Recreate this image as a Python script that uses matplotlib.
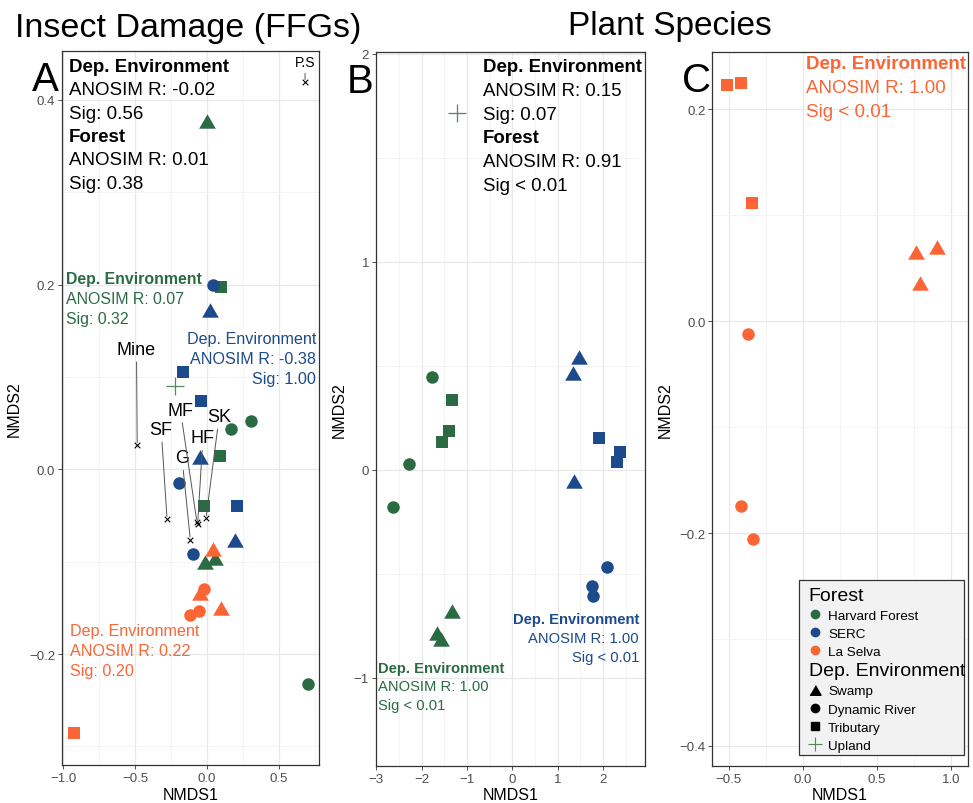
import numpy as np
import matplotlib.pyplot as plt
from matplotlib.lines import Line2D
from matplotlib.patches import Rectangle

plt.rcParams['font.family'] = ['Liberation Sans', 'DejaVu Sans']

forest_names = ['Harvard Forest', 'SERC', 'La Selva']
forest_codes = ['HF', 'SERC', 'LS']
env_names = ['Swamp', 'Dynamic River', 'Tributary', 'Upland']
env_codes = ['S', 'D', 'T', 'U']

#%% panel A - insect damage (FFGs)
a_x = [0.00, 0.10, -0.225, 0.31, 0.167, 0.092, -0.024, -0.017, 0.058, 0.706,
       0.04, 0.02, -0.17, -0.045, -0.047, -0.197, 0.208, 0.197, -0.097,
       0.04, -0.047, -0.024, 0.10, -0.058, -0.116, -0.926]
a_y = [0.377, 0.197, 0.090, 0.052, 0.044, 0.014, -0.040, -0.100, -0.096, -0.232,
       0.200, 0.173, 0.105, 0.074, 0.013, -0.015, -0.040, -0.076, -0.092,
       -0.086, -0.134, -0.130, -0.150, -0.153, -0.158, -0.285]
a_forest = ['HF'] * 10 + ['SERC'] * 9 + ['LS'] * 7
a_env = ['S', 'T', 'U', 'D', 'D', 'T', 'T', 'S', 'S', 'D',
         'D', 'S', 'T', 'T', 'S', 'D', 'T', 'S', 'D',
         'S', 'S', 'D', 'S', 'D', 'D', 'T']

# plant species scores in panel A
sp_names = ['P.S', 'Mine', 'SF', 'G', 'MF', 'HF', 'SK']
sp_x = [0.683, -0.486, -0.278, -0.116, -0.070, -0.065, -0.007]
sp_y = [0.419, 0.026, -0.054, -0.076, -0.057, -0.059, -0.053]

#%% panel B - plant species
b_x = [-1.214, -1.78, -1.325, -1.40, -1.56, -2.27, -2.63, -1.34, -1.655, -1.575,
       1.48, 1.35, 1.92, 2.38, 2.32, 1.36, 2.08, 1.77, 1.79]
b_y = [1.715, 0.444, 0.337, 0.1875, 0.132, 0.027, -0.181, -0.68, -0.785, -0.814,
       0.54, 0.465, 0.151, 0.087, 0.038, -0.053, -0.466, -0.56, -0.606]
b_forest = ['HF'] * 10 + ['SERC'] * 9
b_env = ['U', 'D', 'T', 'T', 'T', 'D', 'D', 'S', 'S', 'S',
         'S', 'S', 'T', 'T', 'T', 'S', 'D', 'D', 'D']

#%% panel C - plant species, La Selva
c_x = [-0.514, -0.417, -0.34, 0.763, 0.91, 0.79, -0.372, -0.419, -0.338]
c_y = [0.223, 0.225, 0.111, 0.065, 0.070, 0.036, -0.0125, -0.174, -0.205]
c_forest = ['LS'] * 9
c_env = ['T', 'T', 'T', 'S', 'S', 'S', 'D', 'D', 'D']

colors = {'HF': '#2b6b44', 'SERC': '#1c4a8a', 'LS': '#fb6536'}
plus_color = {'HF': '#4f8a60', 'SERC': '#4d6fa8', 'LS': '#fb8a66'}
tri = [(-1, -0.866), (1, -0.866), (0, 0.866)]
markers = {'S': tri, 'D': 'o', 'T': 's', 'U': '+'}
msize = {'S': 12, 'D': 9, 'T': 9, 'U': 13}


def points(ax, x, y, forest, env):
    for i in range(len(x)):
        e = env[i]
        if e == 'U':
            ax.scatter(x[i], y[i], marker='+', s=msize[e] ** 2, color=plus_color[forest[i]],
                       linewidths=0.9, zorder=3)
        else:
            ax.scatter(x[i], y[i], marker=markers[e], s=msize[e] ** 2, color=colors[forest[i]],
                       linewidths=0, zorder=3)


def style(ax, xmaj, xmin, ymaj, ymin, xfmt, yfmt, xlim, ylim):
    ax.set_xlim(*xlim); ax.set_ylim(*ylim)
    ax.set_xticks(xmaj)
    ax.set_xticklabels([(xfmt % v).replace('-', '\u2212') for v in xmaj])
    ax.set_yticks(ymaj)
    ax.set_yticklabels([(yfmt % v).replace('-', '\u2212') for v in ymaj])
    ax.set_xticks(xmin, minor=True); ax.set_yticks(ymin, minor=True)
    ax.grid(which='major', color='#e8e8e8', lw=0.9, zorder=0)
    ax.grid(which='minor', color='#f3f3f3', lw=0.6, zorder=0)
    ax.set_axisbelow(True)
    ax.tick_params(which='major', length=3, width=0.6, color='#333333',
                   labelsize=9.5, labelcolor='#4d4d4d', pad=2)
    ax.tick_params(which='minor', length=0)
    for s in ax.spines.values():
        s.set_color('#333333'); s.set_linewidth(0.9)
    ax.set_xlabel('NMDS1', fontsize=11.5, labelpad=2)
    ax.set_ylabel('NMDS2', fontsize=11.5, labelpad=5)


def block(ax, x, y, lines, color, size, step, bold=(), ha='left'):
    for i, t in enumerate(lines):
        ax.annotate(t, xy=(x, y), xytext=(0, -i * step), textcoords='offset points',
                    ha=ha, va='baseline', fontsize=size, color=color,
                    fontweight='bold' if i in bold else 'normal', zorder=6)


fig = plt.figure(figsize=(9.73, 8.04), dpi=100)
axA = fig.add_axes([0.0637, 0.0473, 0.2641, 0.888])
axB = fig.add_axes([0.3864, 0.0464, 0.2765, 0.888])
axC = fig.add_axes([0.7321, 0.0464, 0.2628, 0.888])

# A
style(axA, [-1.0, -0.5, 0.0, 0.5], [-0.75, -0.25, 0.25, 0.75],
      [-0.2, 0.0, 0.2, 0.4], [-0.3, -0.1, 0.1, 0.3], '%.1f', '%.1f',
      (-1.01, 0.78), (-0.32, 0.453))
points(axA, a_x, a_y, a_forest, a_env)
axA.scatter(sp_x, sp_y, marker='x', s=16, color='black', linewidths=0.8, zorder=4)
sp_label_pos = [(0.683, 0.441), (-0.491, 0.130), (-0.319, 0.0433), (-0.174, 0.0127),
                (-0.185, 0.0643), (-0.028, 0.0343), (0.085, 0.0571)]
for name, px, py, (lx, ly) in zip(sp_names, sp_x, sp_y, sp_label_pos):
    axA.annotate(name, xy=(px, py), xytext=(lx, ly), ha='center', va='center',
                 fontsize=10 if name == 'P.S' else 13, zorder=5,
                 arrowprops=dict(arrowstyle='-', color='#555555', lw=0.7,
                                 shrinkA=1, shrinkB=2))

block(axA, -0.963, 0.4315, ['Dep. Environment', 'ANOSIM R: -0.02', 'Sig: 0.56',
                            'Forest', 'ANOSIM R: 0.01', 'Sig: 0.38'],
      'black', 13.5, 16.8, bold=(0, 3))
block(axA, -0.984, 0.2023, ['Dep. Environment', 'ANOSIM R: 0.07', 'Sig: 0.32'],
      colors['HF'], 11.4, 14.4, bold=(0,))
block(axA, 0.759, 0.1373, ['Dep. Environment', 'ANOSIM R: -0.38', 'Sig: 1.00'],
      colors['SERC'], 11.6, 14.4, ha='right')
block(axA, -0.954, -0.1788, ['Dep. Environment', 'ANOSIM R: 0.22', 'Sig: 0.20'],
      colors['LS'], 11.6, 14.4)

# B
style(axB, [-3, -2, -1, 0, 1, 2], [-2.5, -1.5, -0.5, 0.5, 1.5, 2.5],
      [-1, 0, 1, 2], [-0.5, 0.5, 1.5], '%d', '%d',
      (-3.01, 2.93), (-1.423, 2.01))
points(axB, b_x, b_y, b_forest, b_env)
block(axB, -0.653, 1.915, ['Dep. Environment', 'ANOSIM R: 0.15', 'Sig: 0.07',
                           'Forest', 'ANOSIM R: 0.91', 'Sig < 0.01'],
      'black', 13.4, 17.0, bold=(0, 3))
block(axB, 2.797, -0.7385, ['Dep. Environment', 'ANOSIM R: 1.00', 'Sig < 0.01'],
      colors['SERC'], 10.6, 13.4, bold=(0,), ha='right')
block(axB, -2.958, -0.971, ['Dep. Environment', 'ANOSIM R: 1.00', 'Sig < 0.01'],
      colors['HF'], 10.6, 13.4, bold=(0,))

# C
style(axC, [-0.5, 0.0, 0.5, 1.0], [-0.25, 0.25, 0.75],
      [-0.4, -0.2, 0.0, 0.2], [-0.3, -0.1, 0.1], '%.1f', '%.1f',
      (-0.611, 1.117), (-0.419, 0.254))
points(axC, c_x, c_y, c_forest, c_env)
block(axC, 0.020, 0.2391, ['Dep. Environment', 'ANOSIM R: 1.00', 'Sig < 0.01'],
      colors['LS'], 13.5, 17.3, bold=(0,))

# legend
axC.add_patch(Rectangle((0.339, 0.015), 0.645, 0.245, transform=axC.transAxes,
                        facecolor='#f2f2f2', edgecolor='#333333', lw=0.9, zorder=7))
h1 = [Line2D([], [], ls='', marker='o', markersize=6, color=colors[c]) for c in forest_codes]
leg1 = axC.legend(h1, forest_names, title='Forest', loc='upper left',
                  bbox_to_anchor=(0.345, 0.262), frameon=False, fontsize=9.7,
                  title_fontsize=14, alignment='left', handlelength=1.0,
                  handletextpad=0.45, labelspacing=0.42, borderpad=0.1)
leg1.set_zorder(8)
axC.add_artist(leg1)
h2 = [Line2D([], [], ls='', marker=tri, markersize=8, color='black'),
      Line2D([], [], ls='', marker='o', markersize=6, color='black'),
      Line2D([], [], ls='', marker='s', markersize=6, color='black'),
      Line2D([], [], ls='', marker='+', markersize=10, color='#4f8a60', mew=0.8)]
leg2 = axC.legend(h2, env_names, title='Dep. Environment', loc='upper left',
                  bbox_to_anchor=(0.345, 0.156), frameon=False, fontsize=9.7,
                  title_fontsize=14, alignment='left', handlelength=1.0,
                  handletextpad=0.45, labelspacing=0.42, borderpad=0.1)
leg2.set_zorder(8)

# titles and panel letters
fig.text(0.1937, 0.9544, 'Insect Damage (FFGs)', ha='center', va='baseline', fontsize=24.5)
fig.text(0.6886, 0.9565, 'Plant Species', ha='center', va='baseline', fontsize=24)
fig.text(0.0471, 0.8872, 'A', ha='center', va='baseline', fontsize=29)
fig.text(0.3705, 0.884, 'B', ha='center', va='baseline', fontsize=29)
fig.text(0.7160, 0.886, 'C', ha='center', va='baseline', fontsize=29)

fig.savefig('out.png', dpi=100)
